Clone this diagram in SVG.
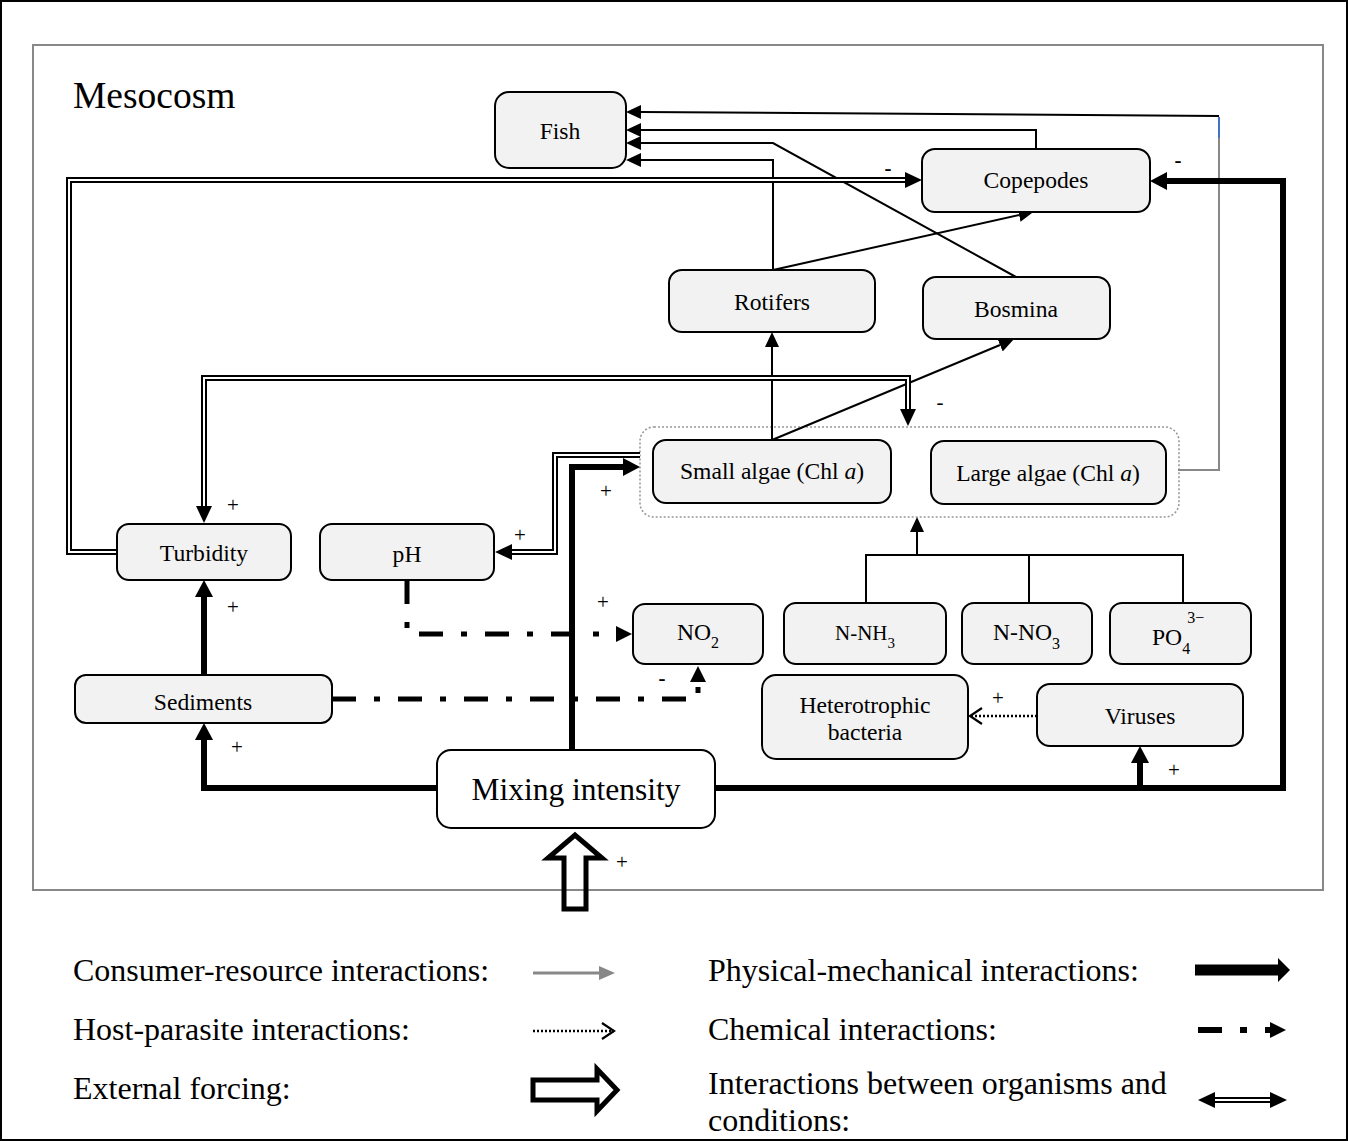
<svg xmlns="http://www.w3.org/2000/svg" width="1348" height="1141" viewBox="0 0 1348 1141">
<style>
.node rect{fill:#f2f2f2;stroke:#000;stroke-width:2}
.t{font-family:"Liberation Serif","Times New Roman",serif;fill:#000}
.nt{font-size:23.6px;text-anchor:middle}
.lg{font-size:32px}
.sg{font-size:21px;text-anchor:middle}
.thin{fill:none;stroke:#000;stroke-width:2}
.thick{fill:none;stroke:#000;stroke-width:6}
.dblo{fill:none;stroke:#000;stroke-width:6}
.dbli{fill:none;stroke:#fff;stroke-width:2}
.chem{fill:none;stroke:#000;stroke-width:5;stroke-dasharray:24 18 6 18}
</style>
<defs>
<marker id="mThin" markerUnits="userSpaceOnUse" markerWidth="15" markerHeight="14" refX="0" refY="7" orient="auto"><path d="M0,0 L15,7 L0,14z" fill="#000"/></marker>
<marker id="mThick" markerUnits="userSpaceOnUse" markerWidth="17" markerHeight="18" refX="0" refY="9" orient="auto"><path d="M0,0 L17,9 L0,18z" fill="#000"/></marker>
<marker id="mDbl" markerUnits="userSpaceOnUse" markerWidth="17" markerHeight="16" refX="0" refY="8" orient="auto-start-reverse"><path d="M0,0 L17,8 L0,16z" fill="#000"/></marker>
<marker id="mChem" markerUnits="userSpaceOnUse" markerWidth="16" markerHeight="16" refX="0" refY="8" orient="auto"><path d="M0,0 L16,8 L0,16z" fill="#000"/></marker>
<marker id="mGray" markerUnits="userSpaceOnUse" markerWidth="16" markerHeight="14" refX="0" refY="7" orient="auto"><path d="M0,0 L16,7 L0,14z" fill="#888"/></marker>
<marker id="mOpen" markerUnits="userSpaceOnUse" markerWidth="16" markerHeight="20" refX="14" refY="10" orient="auto"><path d="M2,2 L14,10 L2,18" fill="none" stroke="#000" stroke-width="2.2"/></marker>
<marker id="mBig" markerUnits="userSpaceOnUse" markerWidth="12" markerHeight="24" refX="0" refY="12" orient="auto"><path d="M0,0 L12,12 L0,24z" fill="#000"/></marker>
</defs>

<rect x="1" y="1" width="1346" height="1139" fill="#fff" stroke="#000" stroke-width="2"/>
<rect x="33" y="45" width="1290" height="845" fill="none" stroke="#888" stroke-width="2"/>
<text class="t" x="73" y="108" font-size="37.5">Mesocosm</text>

<g id="connectors">
  <rect id="algae-group" x="640" y="427" width="539" height="90" rx="14" fill="none" stroke="#999" stroke-width="1.6" stroke-dasharray="2 2"/>
  <path d="M1178,470 L1219,470 L1219,138" fill="none" stroke="#888" stroke-width="2"/>
  <path d="M1219,138 L1219,117" fill="none" stroke="#4472c4" stroke-width="2"/>
  <path class="thin" d="M1219,116 L641,112" marker-end="url(#mThin)"/>
  <path class="thin" d="M1036,149 L1036,130 L641,130" marker-end="url(#mThin)"/>
  <path class="thin" d="M1016,277 L773,143 L641,143" marker-end="url(#mThin)"/>
  <path class="thin" d="M773,270 L773,160 L641,160" marker-end="url(#mThin)"/>
  <path class="thin" d="M773,270 L1019,215" marker-end="url(#mThin)"/>
  <path class="thin" d="M772,440 L772,347" marker-end="url(#mThin)"/>
  <path class="thin" d="M772,440 L1000,345" marker-end="url(#mThin)"/>
  <path class="thin" d="M866,603 L866,555 L1183,555 L1183,603 M1029,555 L1029,603"/>
  <path class="thin" d="M917,555 L917,532" marker-end="url(#mThin)"/>
  <path class="dblo" d="M117,552 L69,552 L69,180 L905,180" marker-end="url(#mDbl)"/>
  <path class="dbli" d="M117,552 L69,552 L69,180 L905,180"/>
  <path class="dblo" d="M204,506 L204,378 L908,378 L908,409" marker-start="url(#mDbl)" marker-end="url(#mDbl)"/>
  <path class="dbli" d="M204,506 L204,378 L908,378 L908,409"/>
  <path class="dblo" d="M640,455 L555,455 L555,552 L512,552" marker-end="url(#mDbl)"/>
  <path class="dbli" d="M640,455 L555,455 L555,552 L512,552"/>
  <path class="thick" d="M715,788 L1283,788 L1283,181 L1167,181" marker-end="url(#mThick)"/>
  <path class="thick" d="M438,788 L204,788 L204,740" marker-end="url(#mThick)"/>
  <path class="thick" d="M204,675 L204,597" marker-end="url(#mThick)"/>
  <path class="thick" d="M572,750 L572,467 L623,467" marker-end="url(#mThick)"/>
  <path class="thick" d="M1140,788 L1140,763" marker-end="url(#mThick)"/>
  <path class="chem" d="M407,580 L407,634 L616,634" marker-end="url(#mChem)"/>
  <path class="chem" d="M332,699 L698,699 L698,682" marker-end="url(#mChem)"/>
  <path d="M1037,716 L970,716" fill="none" stroke="#000" stroke-width="2.5" stroke-dasharray="2 2" marker-end="url(#mOpen)"/>
  <polygon points="564,909 564,858 548,858 575,835 602,858 586,858 586,909" fill="none" stroke="#000" stroke-width="5"/>
  <g class="t sg">
    <text x="888" y="175" font-weight="bold">-</text>
    <text x="1178" y="167" font-weight="bold">-</text>
    <text x="233" y="512">+</text>
    <text x="940" y="409">-</text>
    <text x="520" y="542">+</text>
    <text x="606" y="498">+</text>
    <text x="233" y="614">+</text>
    <text x="603" y="609">+</text>
    <text x="662" y="685" font-weight="bold">-</text>
    <text x="237" y="754">+</text>
    <text x="998" y="705">+</text>
    <text x="1174" y="777">+</text>
    <text x="622" y="869">+</text>
  </g>
</g>

<g id="fish" class="node"><rect x="495" y="92" width="131" height="76" rx="14"/><text class="t nt" x="560" y="139">Fish</text></g>
<g id="copepodes" class="node"><rect x="922" y="149" width="228" height="63" rx="13"/><text class="t nt" x="1036" y="188">Copepodes</text></g>
<g id="rotifers" class="node"><rect x="669" y="270" width="206" height="62" rx="13"/><text class="t nt" x="772" y="310">Rotifers</text></g>
<g id="bosmina" class="node"><rect x="923" y="277" width="187" height="62" rx="13"/><text class="t nt" x="1016" y="317">Bosmina</text></g>
<g id="small-algae" class="node"><rect x="653" y="440" width="238" height="63" rx="13"/><text class="t nt" x="772" y="479">Small algae (Chl <tspan font-style="italic">a</tspan>)</text></g>
<g id="large-algae" class="node"><rect x="931" y="441" width="235" height="63" rx="13"/><text class="t nt" x="1048" y="481">Large algae (Chl <tspan font-style="italic">a</tspan>)</text></g>
<g id="turbidity" class="node"><rect x="117" y="524" width="174" height="56" rx="12"/><text class="t nt" x="204" y="561">Turbidity</text></g>
<g id="ph" class="node"><rect x="320" y="524" width="174" height="56" rx="12"/><text class="t nt" x="407" y="562">pH</text></g>
<g id="no2" class="node"><rect x="633" y="604" width="130" height="60" rx="12"/><text class="t" x="677" y="640" font-size="23.6">NO<tspan font-size="16" dy="8">2</tspan></text></g>
<g id="n-nh3" class="node"><rect x="784" y="603" width="162" height="61" rx="12"/><text class="t" x="835" y="640" font-size="21">N-NH<tspan font-size="15" dy="8">3</tspan></text></g>
<g id="n-no3" class="node"><rect x="962" y="603" width="130" height="61" rx="12"/><text class="t" x="993" y="640" font-size="23.6">N-NO<tspan font-size="16" dy="9">3</tspan></text></g>
<g id="po4" class="node"><rect x="1110" y="603" width="141" height="61" rx="12"/><text class="t" x="1152" y="645" font-size="23.6">PO<tspan font-size="16" dy="9">4</tspan><tspan font-size="16" dx="-3" dy="-31">3−</tspan></text></g>
<g id="sediments" class="node"><rect x="75" y="675" width="257" height="48" rx="11"/><text class="t nt" x="203" y="710">Sediments</text></g>
<g id="heterotrophic-bacteria" class="node"><rect x="762" y="675" width="206" height="84" rx="14"/><text class="t nt" x="865" y="713">Heterotrophic</text><text class="t nt" x="865" y="740">bacteria</text></g>
<g id="viruses" class="node"><rect x="1037" y="684" width="206" height="62" rx="13"/><text class="t nt" x="1140" y="724">Viruses</text></g>
<g id="mixing-intensity" class="node"><rect x="437" y="750" width="278" height="78" rx="14" style="fill:#fff"/><text class="t" x="576" y="800" font-size="31.5" text-anchor="middle">Mixing intensity</text></g>

<g id="legend">
  <text class="t lg" x="73" y="981">Consumer-resource interactions:</text>
  <text class="t lg" x="73" y="1040">Host-parasite interactions:</text>
  <text class="t lg" x="73" y="1099">External forcing:</text>
  <text class="t lg" x="708" y="981">Physical-mechanical interactions:</text>
  <text class="t lg" x="708" y="1040">Chemical interactions:</text>
  <text class="t lg" x="708" y="1094">Interactions between organisms and</text>
  <text class="t lg" x="708" y="1131">conditions:</text>
  <path d="M533,973 L599,973" stroke="#888" stroke-width="3" fill="none" marker-end="url(#mGray)"/>
  <path d="M533,1031 L614,1031" fill="none" stroke="#000" stroke-width="2.5" stroke-dasharray="2 2" marker-end="url(#mOpen)"/>
  <polygon points="533,1080 597,1080 597,1069 617,1090 597,1111 597,1100 533,1100" fill="none" stroke="#000" stroke-width="5"/>
  <path d="M1195,970 L1278,970" stroke="#000" stroke-width="11" fill="none" marker-end="url(#mBig)"/>
  <path d="M1198,1030 L1270,1030" fill="none" stroke="#000" stroke-width="6" stroke-dasharray="24 18 7 18" marker-end="url(#mChem)"/>
  <path class="dblo" d="M1215,1100 L1270,1100" marker-start="url(#mDbl)" marker-end="url(#mDbl)"/>
  <path class="dbli" d="M1215,1100 L1270,1100"/>
</g>
</svg>
